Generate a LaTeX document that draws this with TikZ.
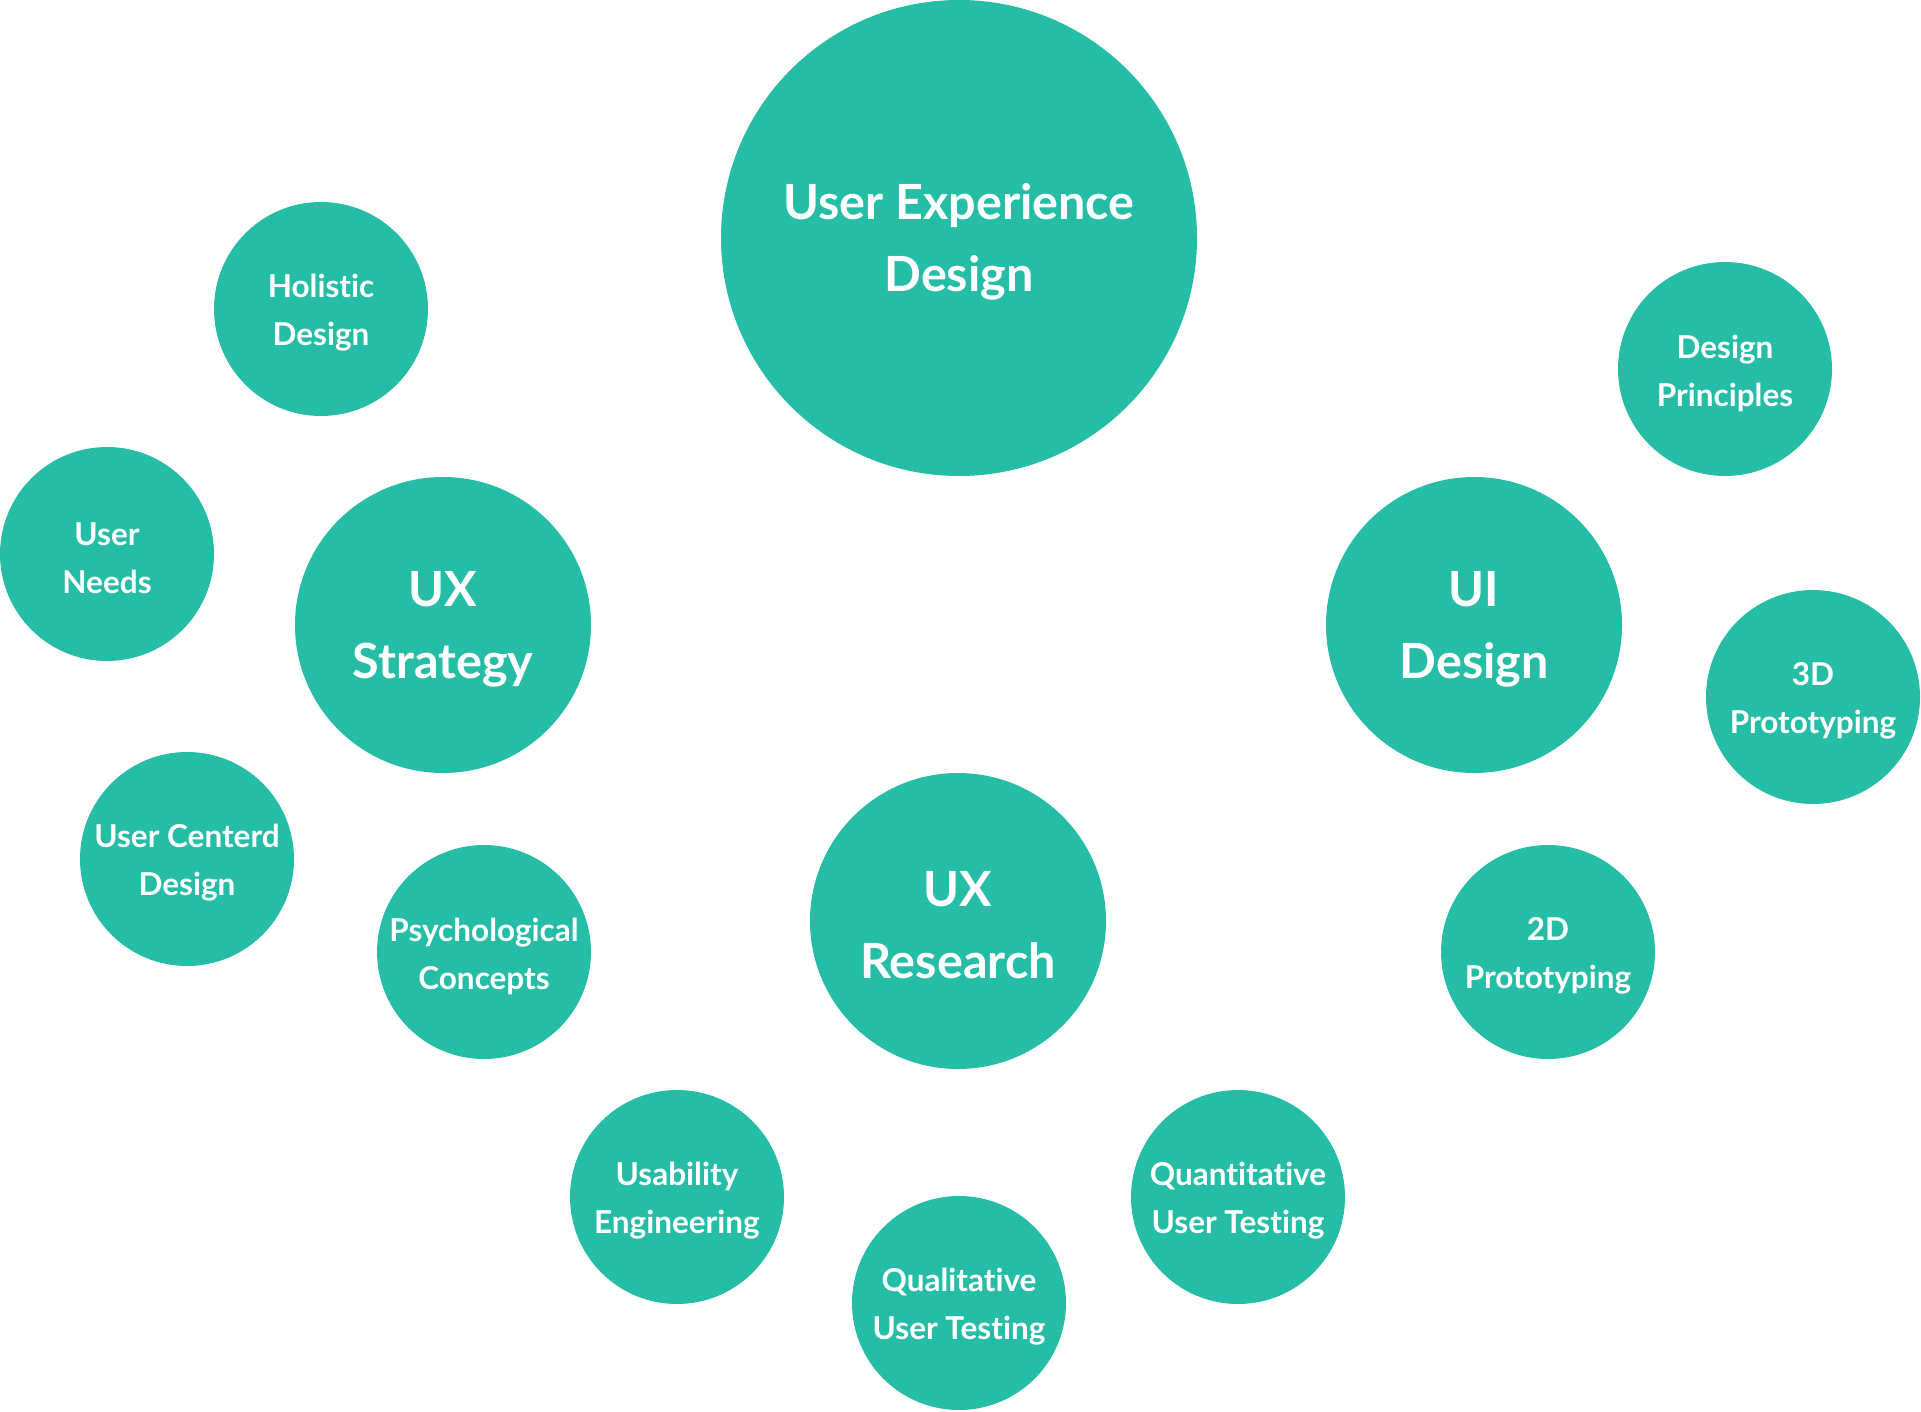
\documentclass[tikz,border=0pt]{standalone}
\usepackage{fontspec}
\setmainfont{Lato}[Ligatures={NoCommon,NoContextual}]
\definecolor{teal1}{HTML}{25BDA5}
\begin{document}
\begin{tikzpicture}[x=1pt,y=-1pt,
  bub/.style={circle,fill=teal1,draw=none,inner sep=0pt},
  small/.style={bub,minimum size=214pt},
  mid/.style={bub,minimum size=296pt},
  big/.style={bub,minimum size=476pt},
  stxt/.style={text=white,align=center,inner sep=0pt,font=\fontsize{31.5}{48}\selectfont\bfseries},
  btxt/.style={text=white,align=center,inner sep=0pt,font=\fontsize{48.5}{72}\selectfont\bfseries}]
\useasboundingbox (0,0) rectangle (1921,1412);
\newcommand\bubble[5]{%
  \node[#1] (#2) at (#3) {};
  \node[#4] (#2-t) at ([yshift=-4pt]#2.center) {#5};}
\bubble{big}{uxd}{959,238}{btxt}{User Experience\\Design}
\bubble{small}{hol}{321,309}{stxt}{Holistic\\Design}
\bubble{small}{un}{107,554}{stxt}{User\\Needs}
\bubble{mid}{uxs}{443,625}{btxt}{UX\\Strategy}
\bubble{mid}{uid}{1474,625}{btxt}{UI\\Design}
\bubble{small}{dp}{1725,369}{stxt}{Design\\Principles}
\bubble{small}{ptd}{1813,697}{stxt}{3D\\Prototyping}
\bubble{small}{ucd}{187,859}{stxt}{User Centerd\\Design}
\bubble{small}{psy}{484,952}{stxt}{Psychological\\Concepts}
\bubble{mid}{uxr}{958,921}{btxt}{UX\\Research}
\bubble{small}{ptw}{1548,952}{stxt}{2D\\Prototyping}
\bubble{small}{use}{677,1197}{stxt}{Usability\\Engineering}
\bubble{small}{qual}{959,1303}{stxt}{Qualitative\\User Testing}
\bubble{small}{quan}{1238,1197}{stxt}{Quantitative\\User Testing}
\end{tikzpicture}
\end{document}
